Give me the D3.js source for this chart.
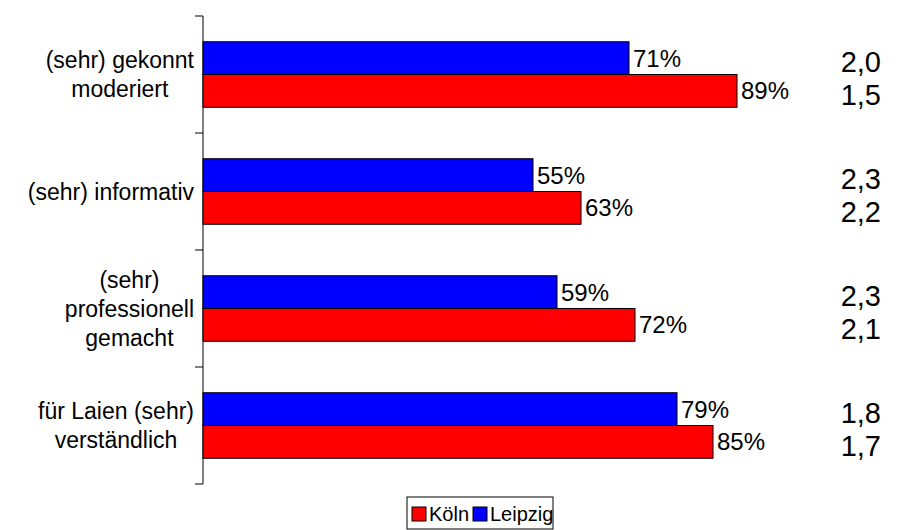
<!DOCTYPE html>
<html>
<head>
<meta charset="utf-8">
<script src="https://cdn.jsdelivr.net/npm/d3@7"></script>
<style>
	body { margin: 0; background: #fff; }
	text { font-family: Arial, "Liberation Sans", sans-serif; fill: #000; }
</style>
</head>
<body>
<div id="chart"></div>
<script>
// data
const categories = [
	['(sehr) gekonnt', 'moderiert'],
	['(sehr) informativ'],
	['(sehr)', 'professionell', 'gemacht'],
	['für Laien (sehr)', 'verständlich']
];
const seriesNames = ['Leipzig', 'Köln'];
const leipzig = [71, 55, 59, 79];
const koeln = [89, 63, 72, 85];
const gradesLeipzig = ['2,0', '2,3', '2,3', '1,8'];
const gradesKoeln = ['1,5', '2,2', '2,1', '1,7'];
const colors = { 'Leipzig': '#0000ff', 'Köln': '#ff0000' };

const width = 910, height = 530;

let svg = d3.select('#chart').append('svg')
	.attr('width', width)
	.attr('height', height);

let rows = categories.map((c, i) => ({
	idx: i,
	lines: c,
	values: { 'Leipzig': leipzig[i], 'Köln': koeln[i] },
	grades: { 'Leipzig': gradesLeipzig[i], 'Köln': gradesKoeln[i] }
}));

//Scale
let y = d3.scaleBand()
	.domain(rows.map(d => d.idx))
	.range([16, 484])
	.paddingInner(0.44)
	.paddingOuter(0.22);
let ySub = d3.scaleBand()
	.domain(seriesNames)
	.range([0, y.bandwidth()]);
let x = d3.scaleLinear()
	.domain([0, 100])
	.range([203, 803]);

// axis line with ticks between categories
let axis = svg.append('g').attr('class', 'y-axis');
axis.append('line')
	.attr('x1', x(0)).attr('x2', x(0))
	.attr('y1', y.range()[0]).attr('y2', y.range()[1])
	.attr('stroke', '#000').attr('stroke-width', 1);
let tickYs = rows.map(d => y(d.idx) - y.step() * y.paddingInner() / 2).concat([y.range()[1]]);
axis.selectAll('.tick')
	.data(tickYs)
	.enter().append('line')
	.attr('x1', x(0) - 8).attr('x2', x(0))
	.attr('y1', d => d).attr('y2', d => d)
	.attr('stroke', '#000');

// bars
let groups = svg.append('g').attr('class', 'bars')
	.selectAll('g')
	.data(rows)
	.enter().append('g')
	.attr('transform', d => `translate(0,${y(d.idx)})`);

groups.selectAll('rect')
	.data(d => seriesNames.map(s => ({ s, v: d.values[s] })))
	.enter().append('rect')
	.attr('x', x(0))
	.attr('y', d => ySub(d.s))
	.attr('width', d => x(d.v) - x(0))
	.attr('height', ySub.bandwidth())
	.attr('fill', d => colors[d.s])
	.attr('stroke', '#000')
	.attr('stroke-width', 1);

groups.selectAll('.val')
	.data(d => seriesNames.map(s => ({ s, v: d.values[s] })))
	.enter().append('text')
	.attr('class', 'val')
	.attr('x', d => x(d.v) + 4)
	.attr('y', d => ySub(d.s) + ySub.bandwidth() / 2)
	.attr('dy', '0.35em')
	.style('font-size', '24px')
	.text(d => d.v + '%');

// grades on the right
groups.selectAll('.grade')
	.data(d => seriesNames.map(s => ({ s, g: d.grades[s] })))
	.enter().append('text')
	.attr('class', 'grade')
	.attr('x', 881)
	.attr('y', d => ySub(d.s) + ySub.bandwidth() / 2 + 4)
	.attr('dy', '0.35em')
	.attr('text-anchor', 'end')
	.style('font-size', '29px')
	.text(d => d.g);

// category labels, lines centered within a right-aligned block
let labelRight = 194, lineH = 29;
groups.each(function(d) {
	let g = d3.select(this);
	let lab = g.append('g');
	let texts = lab.selectAll('text')
		.data(d.lines)
		.enter().append('text')
		.attr('y', (l, i) => y.bandwidth() / 2 + (i - (d.lines.length - 1) / 2) * lineH)
		.attr('dy', '0.35em')
		.attr('text-anchor', 'middle')
		.style('font-size', '23px')
		.text(l => l);
	let maxW = d3.max(texts.nodes(), n => n.getComputedTextLength());
	texts.attr('x', labelRight - maxW / 2);
});

// legend
let legend = svg.append('g').attr('class', 'legend')
	.attr('transform', 'translate(407,497)');
legend.append('rect')
	.attr('width', 146).attr('height', 32)
	.attr('fill', '#fff').attr('stroke', '#000');
let legendItems = [['Köln', 5, 22], ['Leipzig', 66, 83]];
legendItems.forEach(([name, sx, tx]) => {
	legend.append('rect')
		.attr('x', sx).attr('y', 10)
		.attr('width', 14).attr('height', 14)
		.attr('fill', colors[name]).attr('stroke', '#000');
	legend.append('text')
		.attr('x', tx).attr('y', 17)
		.attr('dy', '0.35em')
		.style('font-size', '20px')
		.text(name);
});
</script>
</body>
</html>
